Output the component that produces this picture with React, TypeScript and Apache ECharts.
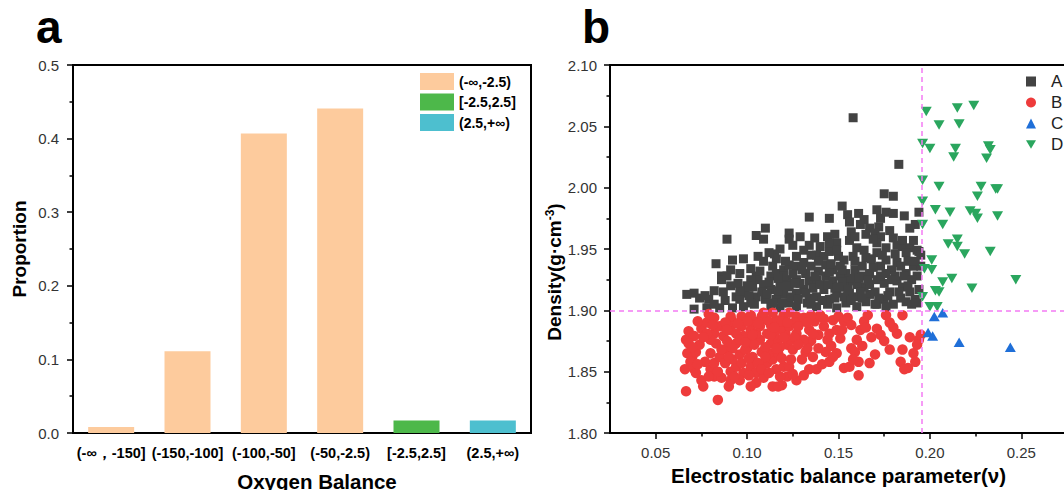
import React, { useEffect, useRef } from "react";
import * as echarts from "echarts";

const FONT = "'Liberation Sans', Arial, Helvetica, sans-serif";

// Panel a
const obCategories = ["(-∞，-150]", "(-150,-100]", "(-100,-50]", "(-50,-2.5)", "[-2.5,2.5]", "(2.5,+∞)"];
const legendA = ["(-∞,-2.5)", "[-2.5,2.5]", "(2.5,+∞)"];
const negValues = [0.008, 0.111, 0.407, 0.441, "-", "-"];
const midValues = ["-", "-", "-", "-", 0.017, "-"];
const posValues = ["-", "-", "-", "-", "-", 0.017];

// Panel b
const xMajorTicks = [0.05, 0.1, 0.15, 0.2, 0.25];
const xMinorTicks = [0.075, 0.125, 0.175, 0.225];
const densityLimit = 1.9;
const balanceLimit = 0.1955;

const seriesA = [
  [0.158, 2.057], [0.183, 2.019], [0.175, 1.995], [0.18, 1.993], [0.152, 1.985], [0.155, 1.978], [0.134, 1.976], [0.145, 1.975],
  [0.171, 1.982], [0.176, 1.98], [0.18, 1.979], [0.186, 1.977], [0.194, 1.98], [0.161, 1.979], [0.164, 1.974], [0.173, 1.975],
  [0.156, 1.972], [0.162, 1.97], [0.167, 1.967], [0.172, 1.968], [0.192, 1.97], [0.189, 1.967], [0.11, 1.967], [0.105, 1.961],
  [0.109, 1.958], [0.089, 1.958], [0.123, 1.963], [0.129, 1.96], [0.137, 1.959], [0.144, 1.96], [0.149, 1.955], [0.157, 1.964],
  [0.156, 1.957], [0.17, 1.963], [0.165, 1.962], [0.173, 1.96], [0.18, 1.959], [0.182, 1.953], [0.185, 1.952], [0.189, 1.951],
  [0.193, 1.949], [0.187, 1.947], [0.125, 1.953], [0.134, 1.953], [0.14, 1.952], [0.16, 1.951], [0.164, 1.949], [0.138, 1.945],
  [0.142, 1.944], [0.145, 1.948], [0.15, 1.944], [0.153, 1.941], [0.158, 1.944], [0.165, 1.943], [0.171, 1.947], [0.176, 1.941],
  [0.182, 1.939], [0.179, 1.933], [0.191, 1.936], [0.115, 1.946], [0.116, 1.942], [0.106, 1.944], [0.109, 1.94], [0.098, 1.942],
  [0.092, 1.941], [0.083, 1.938], [0.102, 1.934], [0.091, 1.933], [0.096, 1.93], [0.086, 1.928], [0.086, 1.925], [0.082, 1.916],
  [0.087, 1.915], [0.067, 1.913], [0.071, 1.914], [0.074, 1.91], [0.079, 1.909], [0.071, 1.901], [0.085, 1.902], [0.092, 1.902],
  [0.094, 1.911], [0.099, 1.914], [0.103, 1.919], [0.106, 1.925], [0.109, 1.921], [0.113, 1.928], [0.116, 1.93], [0.12, 1.933],
  [0.123, 1.937], [0.127, 1.936], [0.131, 1.939], [0.135, 1.936], [0.139, 1.932], [0.143, 1.937], [0.147, 1.933], [0.151, 1.936],
  [0.154, 1.93], [0.159, 1.933], [0.163, 1.936], [0.167, 1.93], [0.171, 1.925], [0.175, 1.922], [0.182, 1.924], [0.185, 1.919],
  [0.189, 1.915], [0.192, 1.909], [0.193, 1.906], [0.187, 1.907], [0.18, 1.905], [0.167, 1.913], [0.17, 1.915], [0.164, 1.919],
  [0.16, 1.911], [0.156, 1.924], [0.153, 1.919], [0.149, 1.914], [0.145, 1.909], [0.142, 1.917], [0.138, 1.911], [0.134, 1.924],
  [0.131, 1.917], [0.127, 1.925], [0.123, 1.919], [0.12, 1.913], [0.116, 1.909], [0.113, 1.917], [0.11, 1.909], [0.105, 1.911],
  [0.102, 1.906], [0.098, 1.903], [0.096, 1.909], [0.113, 1.903], [0.118, 1.902], [0.123, 1.906], [0.127, 1.903], [0.133, 1.906],
  [0.138, 1.903], [0.144, 1.905], [0.149, 1.902], [0.154, 1.906], [0.16, 1.903], [0.165, 1.907], [0.171, 1.905], [0.175, 1.909],
  [0.176, 1.903], [0.122, 1.925], [0.118, 1.922], [0.114, 1.936], [0.138, 1.925], [0.143, 1.928], [0.147, 1.924], [0.151, 1.928],
  [0.163, 1.928], [0.167, 1.921], [0.16, 1.921], [0.156, 1.914], [0.153, 1.911], [0.127, 1.914], [0.134, 1.91], [0.12, 1.928],
  [0.105, 1.928], [0.102, 1.925], [0.127, 1.944], [0.131, 1.949], [0.145, 1.955], [0.123, 1.958], [0.171, 1.955], [0.176, 1.951],
  [0.149, 1.949], [0.185, 1.957], [0.191, 1.957], [0.194, 1.948], [0.193, 1.928], [0.187, 1.93], [0.184, 1.936], [0.176, 1.93],
  [0.173, 1.936], [0.195, 1.936], [0.194, 1.917], [0.19, 1.925], [0.195, 1.945], [0.1, 1.92], [0.108, 1.915], [0.112, 1.923],
  [0.117, 1.916], [0.121, 1.92], [0.125, 1.93], [0.129, 1.922], [0.132, 1.93], [0.136, 1.918], [0.14, 1.921], [0.145, 1.931],
  [0.148, 1.918], [0.152, 1.923], [0.158, 1.926], [0.162, 1.915], [0.169, 1.935], [0.172, 1.91], [0.178, 1.915], [0.181, 1.928],
  [0.184, 1.91], [0.188, 1.94], [0.091, 1.92], [0.096, 1.916], [0.078, 1.902], [0.082, 1.905], [0.088, 1.908],
  [0.101, 1.912], [0.104, 1.905], [0.107, 1.932], [0.111, 1.913], [0.114, 1.906], [0.117, 1.926], [0.119, 1.906], [0.121, 1.94],
  [0.124, 1.911], [0.126, 1.922], [0.128, 1.909], [0.13, 1.933], [0.132, 1.914], [0.135, 1.905], [0.137, 1.928], [0.139, 1.94],
  [0.141, 1.908], [0.144, 1.921], [0.146, 1.938], [0.148, 1.91], [0.15, 1.919], [0.152, 1.933], [0.155, 1.917], [0.157, 1.908],
  [0.159, 1.94], [0.161, 1.926], [0.163, 1.91], [0.166, 1.925], [0.168, 1.942], [0.17, 1.905], [0.173, 1.928], [0.174, 1.945],
  [0.177, 1.912], [0.179, 1.925], [0.181, 1.946], [0.183, 1.915], [0.186, 1.928], [0.188, 1.92], [0.19, 1.905], [0.192, 1.94],
  [0.178, 1.965], [0.169, 1.958], [0.159, 1.96], [0.148, 1.962], [0.135, 1.945], [0.118, 1.95], [0.112, 1.947], [0.095, 1.922],
  [0.089, 1.928], [0.077, 1.912],
];

const seriesB = [
  [0.0666, 1.834], [0.066, 1.852], [0.0673, 1.865], [0.0666, 1.876], [0.068, 1.883], [0.075, 1.843], [0.076, 1.838], [0.084, 1.827],
  [0.09, 1.838], [0.07, 1.862], [0.072, 1.866], [0.074, 1.872], [0.071, 1.879], [0.075, 1.885], [0.078, 1.89], [0.082, 1.894],
  [0.073, 1.891], [0.08, 1.852], [0.077, 1.858], [0.082, 1.857], [0.085, 1.862], [0.088, 1.868], [0.083, 1.873], [0.087, 1.879],
  [0.091, 1.884], [0.085, 1.887], [0.092, 1.891], [0.091, 1.895], [0.097, 1.895], [0.082, 1.846], [0.086, 1.845], [0.091, 1.85],
  [0.094, 1.854], [0.098, 1.849], [0.092, 1.86], [0.096, 1.864], [0.1, 1.869], [0.094, 1.873], [0.098, 1.879], [0.102, 1.884],
  [0.097, 1.887], [0.104, 1.891], [0.102, 1.896], [0.108, 1.895], [0.102, 1.854], [0.105, 1.849], [0.103, 1.862], [0.108, 1.866],
  [0.107, 1.876], [0.111, 1.881], [0.113, 1.888], [0.116, 1.892], [0.114, 1.898], [0.12, 1.896], [0.123, 1.898], [0.127, 1.895],
  [0.111, 1.857], [0.114, 1.86], [0.109, 1.845], [0.114, 1.838], [0.119, 1.839], [0.116, 1.852], [0.12, 1.854], [0.113, 1.873],
  [0.117, 1.876], [0.121, 1.881], [0.118, 1.885], [0.123, 1.887], [0.122, 1.872], [0.125, 1.868], [0.124, 1.876], [0.127, 1.881],
  [0.129, 1.89], [0.131, 1.894], [0.123, 1.854], [0.122, 1.846], [0.127, 1.843], [0.131, 1.847], [0.134, 1.852], [0.132, 1.866],
  [0.135, 1.875], [0.138, 1.852], [0.141, 1.856], [0.145, 1.858], [0.144, 1.876], [0.142, 1.887], [0.145, 1.881], [0.149, 1.884],
  [0.147, 1.892], [0.15, 1.895], [0.153, 1.891], [0.155, 1.894], [0.151, 1.877], [0.146, 1.871], [0.149, 1.865], [0.153, 1.853],
  [0.156, 1.854], [0.161, 1.858], [0.161, 1.847], [0.157, 1.869], [0.16, 1.876], [0.162, 1.884], [0.164, 1.891], [0.166, 1.896],
  [0.159, 1.866], [0.163, 1.871], [0.167, 1.857], [0.171, 1.885], [0.173, 1.88], [0.175, 1.875], [0.176, 1.896], [0.178, 1.868],
  [0.182, 1.881], [0.185, 1.868], [0.185, 1.896], [0.188, 1.853], [0.191, 1.865], [0.192, 1.858], [0.194, 1.876], [0.193, 1.872],
  [0.133, 1.869], [0.136, 1.862], [0.131, 1.876], [0.134, 1.884], [0.137, 1.891], [0.14, 1.896], [0.068, 1.873], [0.069, 1.858],
  [0.071, 1.852], [0.072, 1.849], [0.08, 1.865], [0.082, 1.881], [0.08, 1.876], [0.078, 1.881], [0.083, 1.887], [0.089, 1.875],
  [0.092, 1.869], [0.088, 1.857], [0.091, 1.843], [0.096, 1.843], [0.101, 1.847], [0.105, 1.841], [0.102, 1.876], [0.105, 1.881],
  [0.107, 1.887], [0.111, 1.892], [0.109, 1.898], [0.1, 1.891], [0.094, 1.881], [0.099, 1.868], [0.112, 1.865], [0.117, 1.865],
  [0.119, 1.861], [0.115, 1.88], [0.119, 1.891], [0.126, 1.89], [0.135, 1.896], [0.117, 1.838], [0.102, 1.838], [0.124, 1.86],
  [0.11, 1.87], [0.106, 1.857], [0.118, 1.87], [0.128, 1.887], [0.113, 1.88], [0.096, 1.876], [0.088, 1.89], [0.079, 1.897],
  [0.104, 1.872], [0.126, 1.878], [0.139, 1.88], [0.143, 1.866], [0.157, 1.888], [0.168, 1.878], [0.18, 1.886], [0.195, 1.88],
  [0.184, 1.858], [0.186, 1.852],
  [0.07, 1.87], [0.073, 1.856], [0.076, 1.878], [0.079, 1.846], [0.081, 1.888], [0.084, 1.85], [0.086, 1.868], [0.089, 1.884],
  [0.09, 1.862], [0.093, 1.846], [0.095, 1.889], [0.097, 1.857], [0.099, 1.874], [0.101, 1.861], [0.103, 1.88], [0.106, 1.889],
  [0.108, 1.852], [0.11, 1.862], [0.112, 1.849], [0.115, 1.886], [0.116, 1.869], [0.118, 1.846], [0.12, 1.878], [0.122, 1.89],
  [0.125, 1.848], [0.128, 1.872], [0.13, 1.86], [0.133, 1.89], [0.136, 1.881], [0.139, 1.869], [0.142, 1.893], [0.147, 1.862],
  [0.152, 1.884], [0.158, 1.86], [0.165, 1.886], [0.17, 1.864], [0.178, 1.89], [0.189, 1.878],
];

const seriesC = [
  [0.199, 1.882], [0.2015, 1.879], [0.2024, 1.895], [0.207, 1.898], [0.216, 1.874], [0.244, 1.87],
];

const seriesD = [
  [0.198, 2.062], [0.215, 2.065], [0.224, 2.067], [0.205, 2.051], [0.216, 2.052], [0.196, 2.036], [0.2, 2.032], [0.214, 2.032],
  [0.213, 2.025], [0.232, 2.034], [0.233, 2.031], [0.231, 2.024], [0.196, 2.006], [0.205, 2.001], [0.228, 2.001], [0.236, 1.999],
  [0.237, 1.999], [0.226, 1.993], [0.196, 1.989], [0.203, 1.982], [0.211, 1.98], [0.222, 1.981], [0.225, 1.979], [0.226, 1.975],
  [0.237, 1.977], [0.196, 1.97], [0.207, 1.97], [0.21, 1.954], [0.215, 1.958], [0.215, 1.952], [0.219, 1.946], [0.233, 1.948],
  [0.197, 1.934], [0.201, 1.941], [0.201, 1.933], [0.207, 1.923], [0.212, 1.926], [0.203, 1.916], [0.205, 1.915], [0.223, 1.918],
  [0.247, 1.925], [0.2, 1.903], [0.204, 1.903], [0.196, 1.911],
];

const DOWN_TRIANGLE = "path://M0,0L10,0L5,8.66Z";

export default function App() {
  const ref = useRef<HTMLDivElement>(null);

  useEffect(() => {
    if (!ref.current) return;
    const chart = echarts.init(ref.current, null, { renderer: "svg" });
    const axisText = { fontFamily: FONT, fontSize: 15, color: "#333" };
    const blackLine = { color: "#000", width: 2 };
    const tickLine = { color: "#000", width: 1.5 };
    const dashStyle = { color: "#F47BF4", type: [5, 4], width: 1.5 };

    chart.setOption({
      animation: false,
      textStyle: { fontFamily: FONT },
      graphic: [
        { type: "text", left: 36, top: 4, style: { text: "a", font: `bold 46px ${FONT}`, fill: "#000" } },
        { type: "text", left: 582, top: 4, style: { text: "b", font: `bold 46px ${FONT}`, fill: "#000" } },
      ],
      legend: [
        {
          data: legendA,
          orient: "vertical",
          left: 415,
          top: 68,
          itemWidth: 34,
          itemHeight: 17,
          itemGap: 3.5,
          icon: "rect",
          textStyle: { fontFamily: FONT, fontSize: 14, fontWeight: "bold", color: "#000" },
        },
        {
          data: ["A", "B", "C", "D"],
          orient: "vertical",
          left: 1021,
          top: 68,
          itemWidth: 10,
          itemHeight: 10,
          itemGap: 4,
          textStyle: { fontFamily: FONT, fontSize: 17, color: "#222", padding: [0, 0, 0, 10] },
        },
      ],
      grid: [
        {
          left: 73, top: 65, width: 458, height: 368, outerBoundsMode: "none", containLabel: false,
          show: true, borderColor: "#000", borderWidth: 2, backgroundColor: "transparent",
        },
        {
          left: 610, top: 65, width: 457, height: 368, outerBoundsMode: "none", containLabel: false,
          show: true, borderColor: "#000", borderWidth: 2, backgroundColor: "transparent",
        },
      ],
      xAxis: [
        {
          gridIndex: 0,
          type: "category",
          data: obCategories,
          boundaryGap: true,
          name: "Oxygen Balance",
          nameLocation: "middle",
          nameGap: 38,
          nameTextStyle: { fontFamily: FONT, fontSize: 20.5, fontWeight: "bold", color: "#000", padding: [0, 0, 0, 30] },
          axisLine: { lineStyle: blackLine },
          axisTick: { alignWithLabel: true, length: 6, lineStyle: { color: "#000", width: 2 } },
          axisLabel: { interval: 0, margin: 12, fontFamily: FONT, fontSize: 14.5, fontWeight: "bold", color: "#000" },
          splitLine: { show: false },
        },
        {
          gridIndex: 1,
          type: "value",
          min: 0.025,
          max: 0.275,
          interval: 0.025,
          name: "Electrostatic balance parameter(ν)",
          nameLocation: "middle",
          nameGap: 25,
          nameTextStyle: { fontFamily: FONT, fontSize: 20.5, fontWeight: "bold", color: "#000" },
          axisLine: { onZero: false, lineStyle: blackLine },
          axisTick: { customValues: xMajorTicks, length: 6, lineStyle: tickLine },
          axisLabel: {
            customValues: xMajorTicks,
            margin: 12,
            ...axisText,
            formatter: (v: number) => v.toFixed(2),
          },
          splitLine: { show: false },
        },
        {
          gridIndex: 1,
          type: "value",
          min: 0.025,
          max: 0.275,
          interval: 0.025,
          position: "bottom",
          axisLine: { show: false },
          axisTick: { customValues: xMinorTicks, length: 3.5, lineStyle: tickLine },
          axisLabel: { show: false },
          splitLine: { show: false },
        },
      ],
      yAxis: [
        {
          gridIndex: 0,
          type: "value",
          min: 0,
          max: 0.5,
          interval: 0.1,
          name: "Proportion",
          nameLocation: "middle",
          nameGap: 44,
          nameTextStyle: { fontFamily: FONT, fontSize: 19, fontWeight: "bold", color: "#000" },
          axisLine: { show: true, lineStyle: blackLine },
          axisTick: { show: true, length: 6, lineStyle: tickLine },
          minorTick: { show: true, splitNumber: 2, length: 3.5, lineStyle: tickLine },
          axisLabel: { margin: 14, ...axisText, formatter: (v: number) => v.toFixed(1) },
          splitLine: { show: false },
        },
        {
          gridIndex: 1,
          type: "value",
          min: 1.8,
          max: 2.1,
          interval: 0.05,
          name: "Density(g·cm{sup|-3})",
          nameLocation: "middle",
          nameGap: 44,
          nameTextStyle: {
            fontFamily: FONT,
            fontSize: 19,
            fontWeight: "bold",
            color: "#000",
            padding: [0, 46, 0, 0],
            rich: { sup: { fontFamily: FONT, fontSize: 12, fontWeight: "bold", color: "#000", verticalAlign: "top", padding: [0, 0, 8, 0] } },
          },
          axisLine: { show: true, onZero: false, lineStyle: blackLine },
          axisTick: { show: true, length: 6, lineStyle: tickLine },
          minorTick: { show: true, splitNumber: 2, length: 3.5, lineStyle: tickLine },
          axisLabel: { margin: 13, ...axisText, formatter: (v: number) => v.toFixed(2) },
          splitLine: { show: false },
        },
      ],
      series: [
        {
          name: legendA[0], type: "bar", xAxisIndex: 0, yAxisIndex: 0, stack: "ob", barWidth: 46,
          itemStyle: { color: "#FDCB9D" }, data: negValues,
        },
        {
          name: legendA[1], type: "bar", xAxisIndex: 0, yAxisIndex: 0, stack: "ob", barWidth: 46,
          itemStyle: { color: "#4DB84A" }, data: midValues,
        },
        {
          name: legendA[2], type: "bar", xAxisIndex: 0, yAxisIndex: 0, stack: "ob", barWidth: 46,
          itemStyle: { color: "#4DBFCF" }, data: posValues,
        },
        {
          name: "A", type: "scatter", xAxisIndex: 1, yAxisIndex: 1, symbol: "rect", symbolSize: 9,
          itemStyle: { color: "#434343", opacity: 1 }, data: seriesA,
        },
        {
          name: "B", type: "scatter", xAxisIndex: 1, yAxisIndex: 1, symbol: "circle", symbolSize: 10.5,
          itemStyle: { color: "#EE3B3B", opacity: 1 }, data: seriesB,
          markLine: {
            silent: true,
            symbol: ["none", "none"],
            label: { show: false },
            lineStyle: dashStyle,
            data: [
              [{ coord: [0.025, densityLimit] }, { coord: [0.275, densityLimit] }],
              [{ coord: [balanceLimit, 1.8] }, { coord: [balanceLimit, 2.1] }],
            ],
          },
        },
        {
          name: "C", type: "scatter", xAxisIndex: 1, yAxisIndex: 1, symbol: "triangle", symbolSize: [11, 9.5],
          itemStyle: { color: "#1F6FD8", opacity: 1 }, data: seriesC,
        },
        {
          name: "D", type: "scatter", xAxisIndex: 1, yAxisIndex: 1, symbol: DOWN_TRIANGLE, symbolSize: [11, 9.5],
          itemStyle: { color: "#2AA65E", opacity: 1 }, data: seriesD,
        },
      ],
    });
    return () => chart.dispose();
  }, []);

  return (
    <div style={{ position: "absolute", left: 0, top: 0, width: 1064, height: 490, overflow: "hidden", background: "#fff" }}>
      <div ref={ref} style={{ width: 1120, height: 490 }} />
    </div>
  );
}
